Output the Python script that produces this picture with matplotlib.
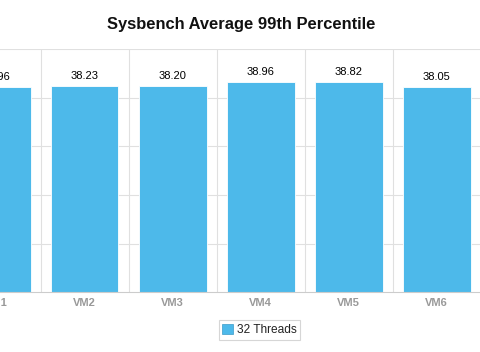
import matplotlib
matplotlib.use("Agg")
import matplotlib.pyplot as plt
from matplotlib.patches import Patch

categories = ["VM1", "VM2", "VM3", "VM4", "VM5", "VM6"]
values = [37.96, 38.23, 38.20, 38.96, 38.82, 38.05]
series_name = "32 Threads"
title = "Sysbench Average 99th Percentile"
y_ticks = [0, 9, 18, 27, 36, 45]

W, H = 480, 352
plt.rcParams['font.family'] = ['Liberation Sans', 'DejaVu Sans']
fig = plt.figure(figsize=(W / 100, H / 100), dpi=100)
fig.patch.set_facecolor('white')

# plot area (partly outside the left edge, as in the reference crop)
left_px, right_px, top_px, bottom_px = -47.5, 480.5, 49.0, 292.3
ax = fig.add_axes([left_px / W, 1 - bottom_px / H,
                   (right_px - left_px) / W, (bottom_px - top_px) / H])

x = list(range(len(categories)))
bar_color = '#4db9ea'
ax.bar(x, values, width=68 / 88, color=bar_color, edgecolor='white',
       linewidth=0.6, zorder=3)

ax.set_xlim(-0.5, len(categories) - 0.5)
ax.set_ylim(y_ticks[0], y_ticks[-1])
ax.set_yticks(y_ticks)
ax.tick_params(axis='y', length=0, labelleft=False)
ax.set_xticks(x)
ax.set_xticklabels(categories, fontsize=8, fontweight='bold', color='#999999')
ax.tick_params(axis='x', length=0, pad=4)

# gridlines
for yv in y_ticks[1:]:
    ax.axhline(yv, color='#e0e0e0', linewidth=0.8, zorder=1)
for b in range(len(categories) + 1):
    ax.axvline(b - 0.5, color='#e0e0e0', linewidth=0.8, zorder=1)
for s in ['top', 'right', 'left']:
    ax.spines[s].set_visible(False)
ax.spines['bottom'].set_color('#cccccc')
ax.spines['bottom'].set_linewidth(0.8)
ax.spines['bottom'].set_zorder(4)

for xi, v in zip(x, values):
    ax.annotate(f"{v:.2f}", (xi, v), xytext=(0, 5), textcoords='offset pixels',
                ha='center', va='bottom', fontsize=8, color='#000000')

fig.text(241.5 / W, 1 - 24 / H, title, ha='center', va='center',
         fontsize=11.9, fontweight='bold', color='#111111')

handle = Patch(facecolor=bar_color, edgecolor='#3a9bc8', linewidth=0.5)
leg = fig.legend([handle], [series_name], loc='center',
                 bbox_to_anchor=(259.5 / W, 1 - 330 / H), frameon=True,
                 fancybox=False, edgecolor='#cccccc', fontsize=8.6,
                 handlelength=0.85, handleheight=0.85, handletextpad=0.35,
                 borderpad=0.3, borderaxespad=0)
leg.get_frame().set_linewidth(0.8)
for t in leg.get_texts():
    t.set_color('#222222')

fig.savefig("out.png", dpi=100, facecolor='white')
